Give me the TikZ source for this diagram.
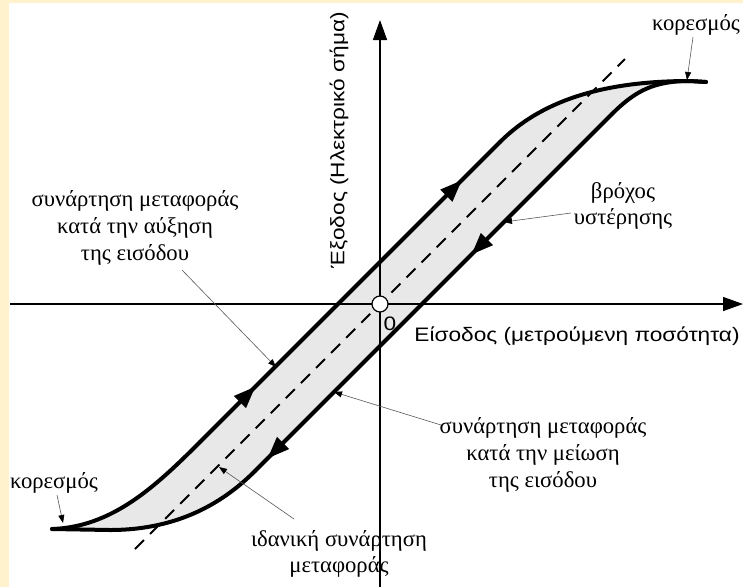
\documentclass[tikz,border=0pt]{standalone}
\usepackage{fontspec}
\usepackage{graphicx}
\setmainfont{Liberation Serif}
\newfontfamily\notefont{Liberation Serif}
\newfontfamily\axisfont{Liberation Sans}
\usetikzlibrary{arrows.meta,decorations.markings}
\definecolor{cream}{HTML}{FFF2CC}
\definecolor{bandfill}{HTML}{E8E8E8}
% axis text is set slightly compressed in height
\newcommand{\squash}[1]{\scalebox{1}[0.86]{#1}}
\newcommand{\lines}[1]{\begin{tabular}{@{}c@{}}#1\end{tabular}}
\begin{document}
\begin{tikzpicture}[x=0.75pt,y=-0.75pt,
  branch/.style={line width=3pt, line join=round, line cap=round},
  axis/.style={line width=1.1pt, -{Triangle[length=15pt,width=10.5pt]}},
  pointer/.style={line width=0.45pt, draw=black!65,
    -{Triangle[length=6pt,width=4.5pt,color=black]}},
  label/.style={font=\notefont\fontsize{17}{20}\selectfont, inner sep=0pt},
  axislabel/.style={font=\axisfont\fontsize{17}{20}\selectfont, inner sep=0pt},
  flow/.style 2 args={decoration={markings,
      mark=at position #1 with {\arrow{Triangle[length=16.5pt,width=12pt]}},
      mark=at position #2 with {\arrow{Triangle[length=16.5pt,width=12pt]}}},
    postaction=decorate}
]
% page and frame strips
\fill[white] (0,0) rectangle (743,587);
\fill[cream] (0,0) rectangle (9,587);
\fill[cream] (0,0) rectangle (743,3);
\useasboundingbox (0,0) rectangle (743,587);

% key points
\coordinate (O) at (380,304);
\coordinate (satL) at (52,529);
\coordinate (satR) at (706,82);
\coordinate (upA) at (200,442);
\coordinate (upB) at (500,142);
\coordinate (loA) at (612,114);
\coordinate (loB) at (255,471);
\coordinate (idealA) at (135,549);
\coordinate (idealB) at (625,59);

% hysteresis band
\fill[bandfill] (satL) .. controls (112,527) and (155,487) .. (upA) -- (upB)
  .. controls (540,102) and (600,81) .. (690,81)
  .. controls (655,81) and (636,90) .. (loA) -- (loB)
  .. controls (225,501) and (180,530) .. (110,530) -- cycle;

% axes
\coordinate (xS) at (10,304);
\coordinate (xE) at (743,304);
\coordinate (yS) at (380,587);
\coordinate (yE) at (380,20);
\draw[axis] (xS) -- (xE);
\draw[axis] (yS) -- (yE);

% ideal transfer line
\draw[line width=1.5pt, dash pattern=on 9.5pt off 6.5pt] (idealA) -- (idealB);

% rising and falling branches
\draw[branch] (satL) .. controls (112,527) and (155,487) .. (upA);
\draw[branch, flow={0.185}{0.873}] (upA) -- (upB);
\draw[branch] (upB) .. controls (540,102) and (600,81) .. (690,81) -- (satR);
\draw[branch] (satR) -- (690,81) .. controls (655,81) and (636,90) .. (loA);
\draw[branch, flow={0.394}{0.965}] (loA) -- (loB);
\draw[branch] (loB) .. controls (225,501) and (180,530) .. (110,530) -- (satL);

% origin
\node[circle, draw, fill=white, line width=0.9pt, minimum size=12pt, inner sep=0pt] (orig) at (O) {};
\node[axislabel] (zero) at (390,324) {\squash{0}};

% axis labels
\node[axislabel] (xlab) at (577,336) {\squash{Είσοδος (μετρούμενη ποσότητα)}};
\node[axislabel, rotate=90] (ylab) at (339,140) {\squash{Έξοδος (Ηλεκτρικό σήμα)}};

% annotations
\node[label] (satTop) at (696,25) {κορεσμός};
\node[label] (satBot) at (54,483) {κορεσμός};
\node[label] (riseLab) at (135,228) {\lines{συνάρτηση μεταφοράς\\κατά την αύξηση\\της εισόδου}};
\node[label] (loopLab) at (623,206) {\lines{βρόχος\\υστέρησης}};
\node[label] (fallLab) at (543,455) {\lines{συνάρτηση μεταφοράς\\κατά την μείωση\\της εισόδου}};
\node[label] (idealLab) at (339,554) {\lines{ιδανική συνάρτηση\\μεταφοράς}};

% pointer tails and heads
\coordinate (pTopS) at (693,37);   \coordinate (pTopE) at (687,80);
\coordinate (pBotS) at (57,495);   \coordinate (pBotE) at (63,523);
\coordinate (pRiseS) at (182,270); \coordinate (pRiseE) at (276,367);
\coordinate (pLoopS) at (571,213); \coordinate (pLoopE) at (504,222);
\coordinate (pFallS) at (441,425); \coordinate (pFallE) at (334,392);
\coordinate (pIdealS) at (294,519); \coordinate (pIdealE) at (219,467);

\draw[pointer] (pTopS) -- (pTopE);
\draw[pointer] (pBotS) -- (pBotE);
\draw[pointer] (pRiseS) -- (pRiseE);
\draw[pointer] (pLoopS) -- (pLoopE);
\draw[pointer] (pFallS) -- (pFallE);
\draw[pointer] (pIdealS) -- (pIdealE);
\end{tikzpicture}
\end{document}
